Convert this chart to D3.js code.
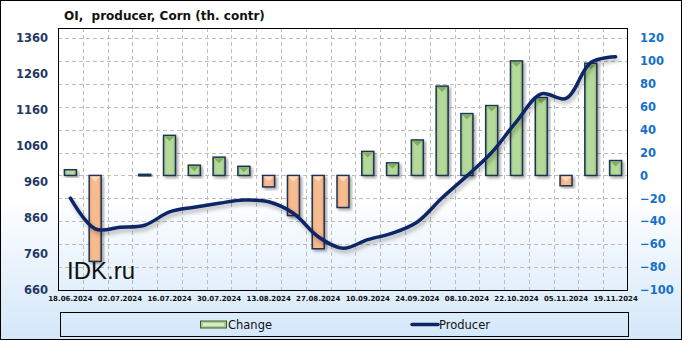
<!DOCTYPE html>
<html>
<head>
<meta charset="utf-8">
<script src="https://cdn.jsdelivr.net/npm/d3@7"></script>
<style>
  html, body { margin: 0; padding: 0; background: #fff; }
  svg { display: block; }
</style>
</head>
<body>
<svg id="chart" width="682" height="341"></svg>
<script>
// ---- DATA ----
const dates = ["18.06.2024","25.06.2024","02.07.2024","09.07.2024","16.07.2024","23.07.2024","30.07.2024","06.08.2024","13.08.2024","20.08.2024","27.08.2024","03.09.2024","10.09.2024","17.09.2024","24.09.2024","01.10.2024","08.10.2024","15.10.2024","22.10.2024","29.10.2024","05.11.2024","12.11.2024","19.11.2024"];
const changeValues = [5, -75, 0, 1, 35, 9, 16, 8, -10, -35, -64, -28, 21, 11, 31, 78, 54, 61, 100, 68, -9, 98, 13];
const producerValues = [915, 830, 834, 840, 877, 890, 901, 910, 905, 873, 808, 776, 800, 818, 849, 916, 977, 1042, 1128, 1205, 1192, 1292, 1308];
const xTickLabels = ["18.06.2024","02.07.2024","16.07.2024","30.07.2024","13.08.2024","27.08.2024","10.09.2024","24.09.2024","08.10.2024","22.10.2024","05.11.2024","19.11.2024"];
const leftTicks = [660, 760, 860, 960, 1060, 1160, 1260, 1360];
const rightTicks = [-100, -80, -60, -40, -20, 0, 20, 40, 60, 80, 100, 120];
const seriesNames = ["Change", "Producer"];
const title = "OI,  producer, Corn (th. contr)";

// ---- LAYOUT ----
const W = 682, H = 341;
const plot = { left: 58, right: 628, top: 28, bottom: 290 };
const svg = d3.select("#chart");
const defs = svg.append("defs");

const bg = defs.append("linearGradient").attr("id", "bg").attr("x1", 0).attr("y1", 0).attr("x2", 0).attr("y2", 1);
bg.append("stop").attr("offset", "0%").attr("stop-color", "#ffffff");
bg.append("stop").attr("offset", "58%").attr("stop-color", "#ffffff");
bg.append("stop").attr("offset", "100%").attr("stop-color", "#d3e7f9");

const gG = defs.append("linearGradient").attr("id", "gGreen").attr("x1", 0).attr("y1", 0).attr("x2", 1).attr("y2", 0);
gG.append("stop").attr("offset", "0%").attr("stop-color", "#8fbf6f");
gG.append("stop").attr("offset", "25%").attr("stop-color", "#b5d99a");
gG.append("stop").attr("offset", "75%").attr("stop-color", "#b5d99a");
gG.append("stop").attr("offset", "100%").attr("stop-color", "#8fbf6f");
const gO = defs.append("linearGradient").attr("id", "gOrange").attr("x1", 0).attr("y1", 0).attr("x2", 1).attr("y2", 0);
gO.append("stop").attr("offset", "0%").attr("stop-color", "#e99e6c");
gO.append("stop").attr("offset", "25%").attr("stop-color", "#f6bb8f");
gO.append("stop").attr("offset", "75%").attr("stop-color", "#f6bb8f");
gO.append("stop").attr("offset", "100%").attr("stop-color", "#e99e6c");

const shadow = defs.append("filter").attr("id", "shadow").attr("x", "-30%").attr("y", "-30%").attr("width", "160%").attr("height", "160%");
shadow.append("feDropShadow").attr("dx", 2).attr("dy", 2).attr("stdDeviation", 1.5).attr("flood-color", "#000").attr("flood-opacity", 0.35);
const lshadow = defs.append("filter").attr("id", "lshadow").attr("x", "-10%").attr("y", "-10%").attr("width", "120%").attr("height", "130%");
lshadow.append("feDropShadow").attr("dx", 2).attr("dy", 3).attr("stdDeviation", 2).attr("flood-color", "#000").attr("flood-opacity", 0.3);

svg.append("rect").attr("x", 0.5).attr("y", 0.5).attr("width", W - 1).attr("height", H - 2)
  .attr("fill", "url(#bg)").attr("stroke", "#000").attr("stroke-width", 1);

// ---- SCALES ----
const x = d3.scaleBand().domain(dates).range([plot.left, plot.right]).paddingInner(0).paddingOuter(0);
const yL = d3.scaleLinear().domain([660, 1360]).range([290, 38]);
const yR = d3.scaleLinear().domain([-100, 120]).range([290, 38]);

// ---- GRID ----
const grid = svg.append("g").attr("stroke", "#bdbdbd").attr("stroke-dasharray", "4,3").attr("stroke-width", 1);
grid.selectAll("line.h").data(rightTicks.filter(t => t > -100)).join("line")
  .attr("x1", plot.left).attr("x2", plot.right)
  .attr("y1", d => Math.round(yR(d)) + 0.5).attr("y2", d => Math.round(yR(d)) + 0.5);
grid.selectAll("line.v").data(dates.slice(1)).join("line")
  .attr("x1", d => Math.round(x(d)) + 0.5).attr("x2", d => Math.round(x(d)) + 0.5)
  .attr("y1", plot.top).attr("y2", plot.bottom);

// ---- TITLE ----
svg.append("text").attr("x", 64).attr("y", 20).attr("xml:space", "preserve").style("white-space", "pre").text(title)
  .attr("font-family", "'DejaVu Sans', Verdana, sans-serif").attr("font-weight", "bold")
  .attr("font-size", 12).attr("fill", "#111");

// ---- BARS ----
const bw = 12;
const barData = dates.map((d, i) => ({ d, v: changeValues[i] })).filter(o => o.v !== 0);
const bars = svg.append("g");
const bg2 = bars.selectAll("g").data(barData).join("g").attr("filter", "url(#shadow)");
bg2.append("rect")
  .attr("x", o => x(o.d) + x.bandwidth() / 2 - bw / 2)
  .attr("y", o => Math.min(yR(o.v), yR(0)))
  .attr("width", bw)
  .attr("height", o => Math.max(1.5, Math.abs(yR(o.v) - yR(0))))
  .attr("fill", o => o.v >= 0 ? "url(#gGreen)" : "url(#gOrange)")
  .attr("stroke", "#1f3358").attr("stroke-width", 1.5);
bg2.filter(o => Math.abs(yR(o.v) - yR(0)) > 6).append("path")
  .attr("d", o => {
    const cx = x(o.d) + x.bandwidth() / 2;
    const top = Math.min(yR(o.v), yR(0)) + 1;
    return `M${cx - bw / 2 + 1},${top} L${cx + bw / 2 - 1},${top} L${cx},${top + 5} Z`;
  })
  .attr("fill", o => o.v >= 0 ? "#7fae5e" : "#fbdcc2");

// ---- LINE ----
const line = d3.line()
  .x((v, i) => x(dates[i]) + x.bandwidth() / 2)
  .y(v => yL(v))
  .curve(d3.curveCatmullRom.alpha(0.5));
svg.append("path").datum(producerValues).attr("d", line)
  .attr("fill", "none").attr("stroke", "#0b2566").attr("stroke-width", 3.5)
  .attr("stroke-linecap", "round").attr("filter", "url(#lshadow)");

// ---- PLOT BORDER ----
svg.append("rect").attr("x", plot.left + 0.5).attr("y", plot.top + 0.5)
  .attr("width", plot.right - plot.left - 1).attr("height", plot.bottom - plot.top)
  .attr("fill", "none").attr("stroke", "#000").attr("stroke-width", 1);

// ---- WATERMARK ----
svg.append("text").attr("x", 67).attr("y", 279).text("IDK.ru")
  .attr("font-family", "'Liberation Sans', Arial, sans-serif").attr("font-size", 24).attr("fill", "#111");

// ---- AXES ----
const axL = svg.append("g").attr("transform", `translate(${plot.left},0)`)
  .call(d3.axisLeft(yL).tickValues(leftTicks).tickSize(0).tickPadding(10).tickFormat(d3.format("d")));
axL.select(".domain").remove();
axL.selectAll("text").attr("font-family", "'DejaVu Sans', Verdana, sans-serif").attr("font-weight", "bold")
  .attr("font-size", 11.5).attr("fill", "#1f3864");

const axR = svg.append("g").attr("transform", `translate(${plot.right},0)`)
  .call(d3.axisRight(yR).tickValues(rightTicks).tickSize(0).tickPadding(12).tickFormat(d3.format("d")));
axR.select(".domain").remove();
axR.selectAll("text").attr("font-family", "'DejaVu Sans', Verdana, sans-serif").attr("font-weight", "bold")
  .attr("font-size", 11.5).attr("fill", "#1570c8");

const axB = svg.append("g").attr("transform", `translate(0,${plot.bottom})`)
  .call(d3.axisBottom(x).tickValues(xTickLabels).tickSize(0).tickPadding(6));
axB.select(".domain").remove();
axB.selectAll("text").attr("font-family", "'DejaVu Sans', Verdana, sans-serif").attr("font-weight", "bold")
  .attr("font-size", 7).attr("fill", "#111");

// ---- LEGEND ----
svg.append("rect").attr("x", 60.5).attr("y", 312.5).attr("width", 568).attr("height", 24)
  .attr("fill", "none").attr("stroke", "#000").attr("stroke-width", 1);
const legX = [200, 411];
const leg = svg.append("g");
seriesNames.forEach((name, i) => {
  const g = leg.append("g").attr("transform", `translate(${legX[i]},0)`);
  if (i === 0) {
    g.append("rect").attr("x", 0.5).attr("y", 321).attr("width", 26).attr("height", 7)
      .attr("fill", "#a9d18e").attr("stroke", "#3c5a3a").attr("stroke-width", 1);
    g.append("rect").attr("x", 3).attr("y", 323).attr("width", 21).attr("height", 3).attr("fill", "#d8edc6");
  } else {
    g.append("line").attr("x1", 1).attr("x2", 27).attr("y1", 324.5).attr("y2", 324.5)
      .attr("stroke", "#0b2566").attr("stroke-width", 3.5).attr("stroke-linecap", "round");
  }
  g.append("text").attr("x", 28).attr("y", 329).text(name)
    .attr("font-family", "'DejaVu Sans', Verdana, sans-serif").attr("font-size", 11.5).attr("fill", "#111");
});
</script>
</body>
</html>
